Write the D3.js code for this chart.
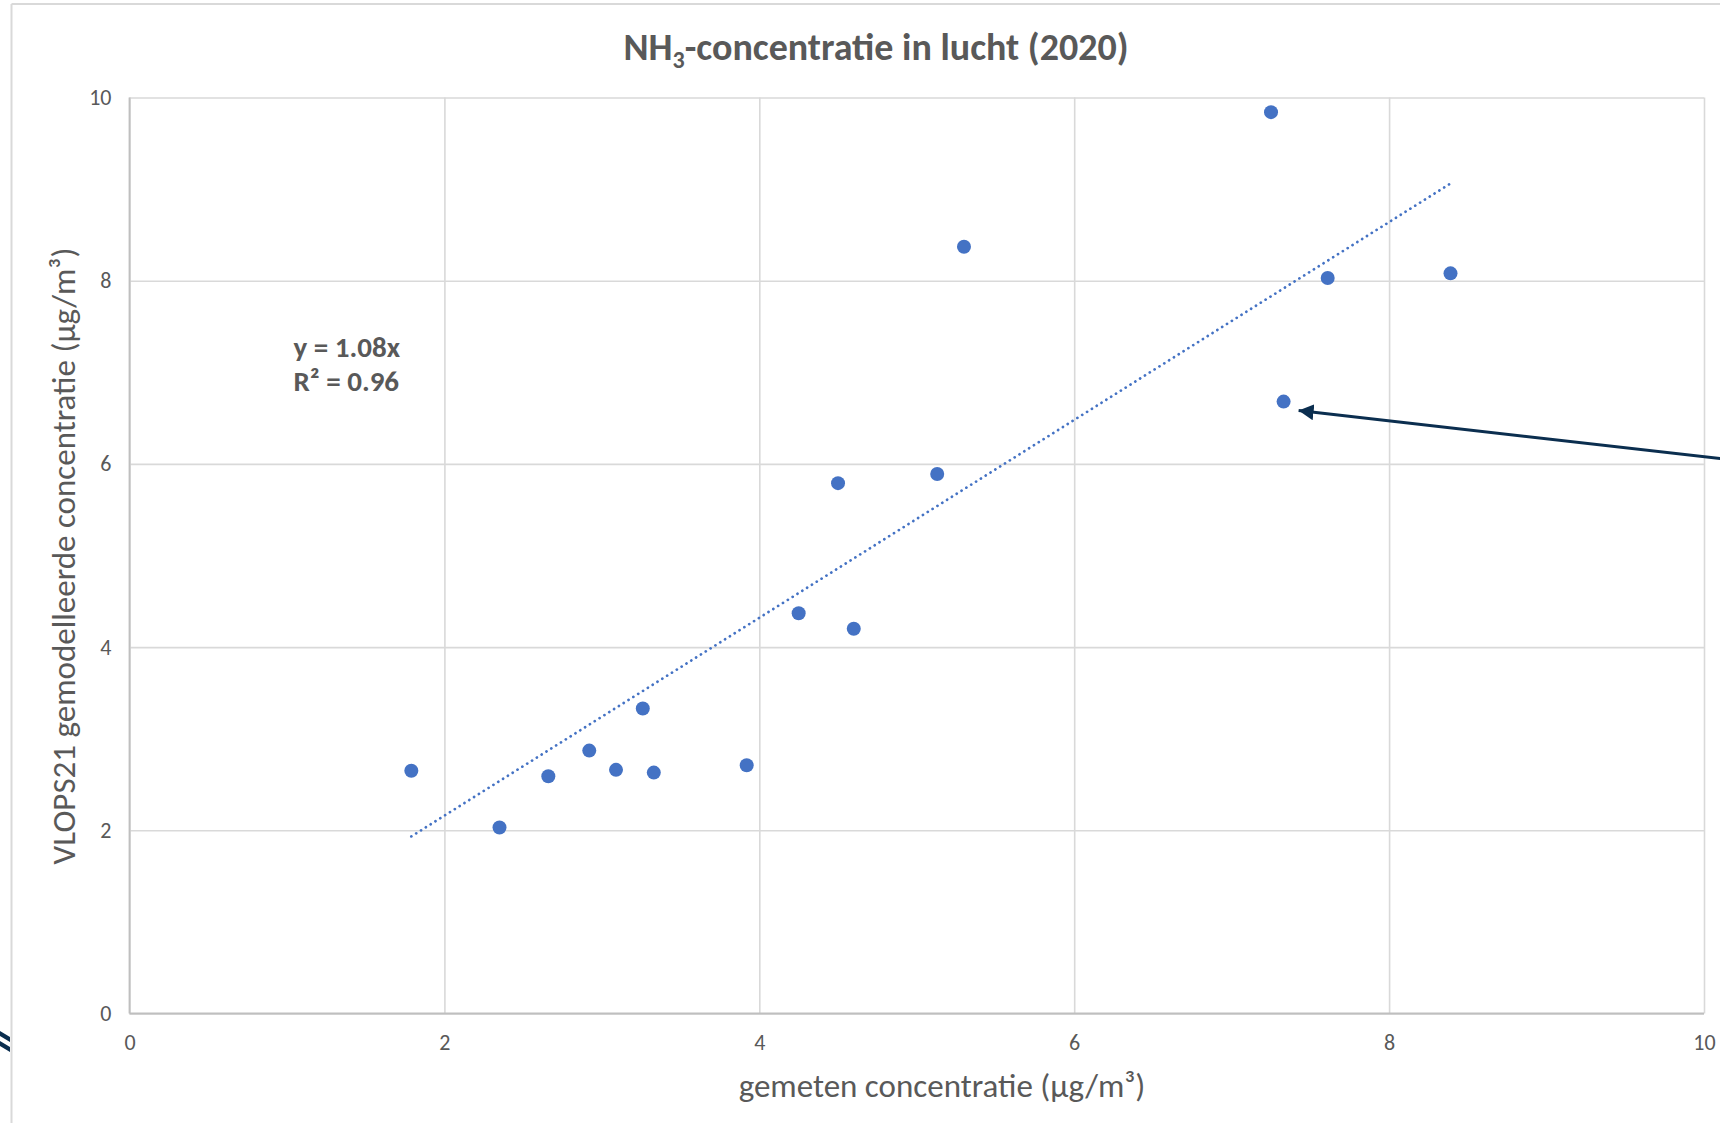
<!DOCTYPE html>
<html>
<head>
<meta charset="utf-8">
<script src="https://cdn.jsdelivr.net/npm/d3@7"></script>
<style>
    body { margin: 0; background: #ffffff; }
    text { font-family: Carlito, Calibri, Lato, sans-serif; fill: #595959; }
</style>
</head>
<body>
<div id="scatter"></div>
<script>
// ----------------------------------------------- //
// Data
var measured = [1.79, 2.35, 2.66, 2.92, 3.09, 3.26, 3.33, 3.92, 4.25, 4.50, 4.60, 5.13, 5.30, 7.25, 7.33, 7.61, 8.39];
var modelled = [2.65, 2.03, 2.59, 2.87, 2.66, 3.33, 2.63, 2.71, 4.37, 5.79, 4.20, 5.89, 8.37, 9.84, 6.68, 8.03, 8.08];
var xTicks = [0, 2, 4, 6, 8, 10];
var yTicks = [0, 2, 4, 6, 8, 10];
var trendSlope = 1.08;
var trendLabel = "y = 1.08x";
var r2Label = "R² = 0.96";
var arrowTarget = 14;   // the point the arrow points at

// ----------------------------------------------- //
// Sizes
var svgWidth = 1720;
var svgHeight = 1123;

var margin = {
    top: 97.5,
    right: 16,
    bottom: 109.5,
    left: 129.5
};

var chartWidth = svgWidth - margin.left - margin.right;
var chartHeight = svgHeight - margin.top - margin.bottom;

var svg = d3.select("#scatter")
    .append("svg")
    .attr("width", svgWidth)
    .attr("height", svgHeight);

// chart border (only top and left edge are visible in the crop)
svg.append("line")
    .attr("x1", 11.5).attr("x2", svgWidth)
    .attr("y1", 4).attr("y2", 4)
    .attr("stroke", "#d9d9d9").attr("stroke-width", 2);
svg.append("line")
    .attr("x1", 11.5).attr("x2", 11.5)
    .attr("y1", 4).attr("y2", svgHeight)
    .attr("stroke", "#d9d9d9").attr("stroke-width", 2);

// piece of a shape that is cut off at the left edge
svg.append("path")
    .attr("d", "M0,1031 L10,1037 L10,1042 L0,1036 Z M0,1041 L10,1047 L10,1052 L0,1046 Z")
    .attr("fill", "#0b2e4f");

var chartGroup = svg.append("g")
    .attr("transform", `translate(${margin.left}, ${margin.top})`);

// ----------------------------------------------- //
// Scales
var xLinearScale = d3.scaleLinear().domain([0, 10]).range([0, chartWidth]);
var yLinearScale = d3.scaleLinear().domain([0, 10]).range([chartHeight, 0]);

// Gridlines + tick labels
var bottomAxis = d3.axisBottom(xLinearScale)
    .tickValues(xTicks)
    .tickSize(-chartHeight)
    .tickPadding(21)
    .tickFormat(d3.format("d"));
var leftAxis = d3.axisLeft(yLinearScale)
    .tickValues(yTicks)
    .tickSize(-chartWidth)
    .tickPadding(18)
    .tickFormat(d3.format("d"));

var xAxis = chartGroup.append("g")
    .attr("transform", `translate(0, ${chartHeight})`)
    .call(bottomAxis);
var yAxis = chartGroup.append("g")
    .call(leftAxis);

[xAxis, yAxis].forEach(function(ax) {
    ax.select(".domain").remove();
    ax.selectAll(".tick line").attr("stroke", "#d9d9d9").attr("stroke-width", 1.6);
    ax.selectAll(".tick text")
        .style("font-size", "22px")
        .style("fill", "#595959")
        .style("font-family", "Carlito, Calibri, Lato, sans-serif");
});

// axis lines
chartGroup.append("line")
    .attr("x1", 0).attr("x2", chartWidth)
    .attr("y1", chartHeight).attr("y2", chartHeight)
    .attr("stroke", "#bfbfbf").attr("stroke-width", 1.8);
chartGroup.append("line")
    .attr("x1", 0).attr("x2", 0)
    .attr("y1", 0).attr("y2", chartHeight)
    .attr("stroke", "#bfbfbf").attr("stroke-width", 1.8);

// ----------------------------------------------- //
// Trendline y = 1.08x over the range of the data
var xMin = d3.min(measured);
var xMax = d3.max(measured);
chartGroup.append("line")
    .attr("x1", xLinearScale(xMin))
    .attr("y1", yLinearScale(trendSlope * xMin))
    .attr("x2", xLinearScale(xMax))
    .attr("y2", yLinearScale(trendSlope * xMax))
    .attr("stroke", "#4472c4")
    .attr("stroke-width", 2.7)
    .attr("stroke-linecap", "round")
    .attr("stroke-dasharray", "0.1,5.6");

// Points
var points = measured.map(function(d, i) { return {x: d, y: modelled[i]}; });
chartGroup.selectAll("circle")
    .data(points)
    .enter()
    .append("circle")
    .attr("cx", d => xLinearScale(d.x))
    .attr("cy", d => yLinearScale(d.y))
    .attr("r", 7)
    .attr("fill", "#4472c4");

// Equation label
var eq = chartGroup.append("text")
    .attr("x", 164)
    .attr("y", 259)
    .style("font-size", "29px")
    .style("font-weight", "bold");
eq.append("tspan").attr("x", 164).text(trendLabel);
eq.append("tspan").attr("x", 164).attr("dy", 34).text(r2Label);

// ----------------------------------------------- //
// Arrow coming in from the right edge
svg.append("defs").append("marker")
    .attr("id", "arrowhead")
    .attr("markerUnits", "userSpaceOnUse")
    .attr("markerWidth", 16)
    .attr("markerHeight", 16)
    .attr("refX", 15)
    .attr("refY", 8)
    .attr("orient", "auto")
    .append("path")
    .attr("d", "M0,0 L15,8 L0,16 Z")
    .attr("fill", "#0b2e4f");

var target = points[arrowTarget];
var tipX = margin.left + xLinearScale(target.x) + 15;
var tipY = margin.top + yLinearScale(target.y) + 9;
svg.append("line")
    .attr("x1", svgWidth + 2)
    .attr("y1", tipY + 48)
    .attr("x2", tipX)
    .attr("y2", tipY)
    .attr("stroke", "#0b2e4f")
    .attr("stroke-width", 3)
    .attr("marker-end", "url(#arrowhead)");

// ----------------------------------------------- //
// Titles
var title = svg.append("text")
    .attr("x", 876)
    .attr("y", 60)
    .attr("text-anchor", "middle")
    .style("font-size", "38px")
    .style("font-weight", "bold");
title.append("tspan").text("NH");
title.append("tspan").text("3").style("font-size", "24px").attr("dy", 8);
title.append("tspan").text("-concentratie in lucht (2020)").attr("dy", -8);

svg.append("text")
    .attr("x", 942)
    .attr("y", 1097)
    .attr("text-anchor", "middle")
    .style("font-size", "33px")
    .text("gemeten concentratie (µg/m³)");

svg.append("text")
    .attr("transform", "translate(75, 556) rotate(-90)")
    .attr("text-anchor", "middle")
    .style("font-size", "33px")
    .text("VLOPS21 gemodelleerde concentratie (µg/m³)");
</script>
</body>
</html>
